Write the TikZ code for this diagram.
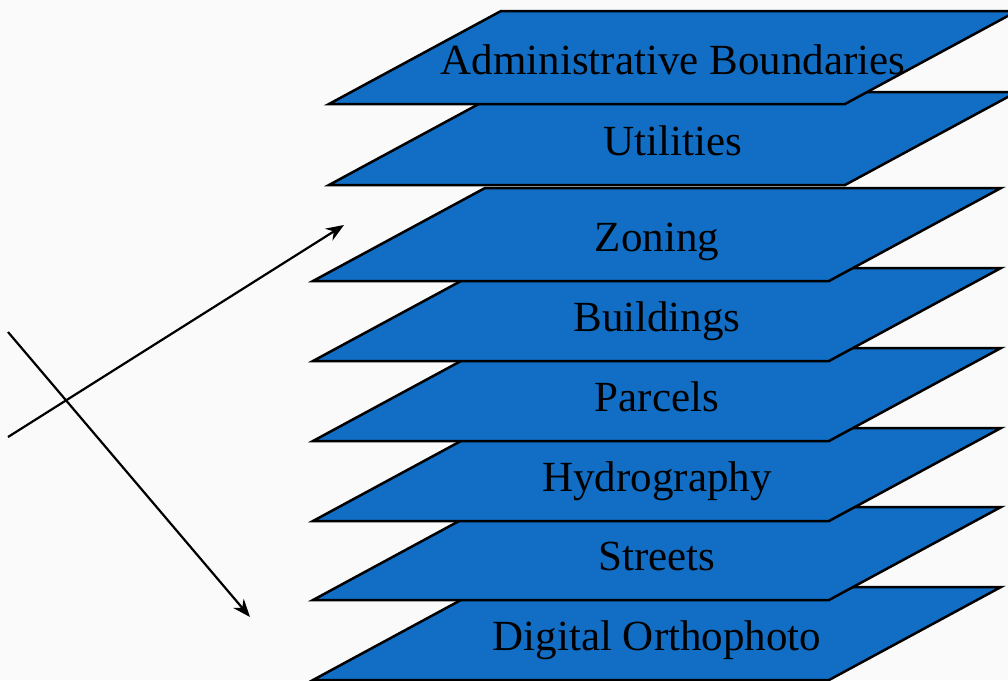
\documentclass[tikz,border=0pt]{standalone}
\usepackage{fontspec}
\setmainfont{Liberation Serif}
\usetikzlibrary{arrows.meta}
\definecolor{layerblue}{RGB}{17,110,196}
\definecolor{bgcol}{RGB}{250,250,250}
\tikzset{
  layerface/.style={fill=layerblue, draw=black, line width=2.5pt, line join=miter},
  layertext/.style={anchor=base, inner sep=0pt, font=\fontsize{43}{50}\selectfont, text=black},
  pointer/.style={draw=black, line width=2.2pt, -{Stealth[length=18pt,width=14pt,inset=6pt]}}
}
\newcommand{\maplayer}[4]{%
  \filldraw[layerface] (#2,#3) -- ++(516,0) -- ++(172,-93) -- ++(-516,0) -- cycle;
  \node[layertext] (#1) at (#2+344,#3-46.5+17) {#4};
}
\begin{document}
\begin{tikzpicture}[x=1pt,y=-1pt]
\useasboundingbox (0,0) rectangle (1008,680);
\fill[bgcol] (0,0) rectangle (1008,680);
\clip (0,0) rectangle (1008,680);
\maplayer{ortho}{313}{680}{Digital Orthophoto}
\maplayer{streets}{313}{600}{Streets}
\maplayer{hydro}{313}{521}{Hydrography}
\maplayer{parcels}{313}{441}{Parcels}
\maplayer{buildings}{313}{361}{Buildings}
\maplayer{zoning}{313}{281}{Zoning}
\maplayer{utilities}{329}{185}{Utilities}
\maplayer{admin}{329}{104}{Administrative Boundaries}
\coordinate (upstart) at (8,437);
\coordinate (upend) at (344,225);
\coordinate (downstart) at (8,332);
\coordinate (downend) at (250,617);
\draw[pointer] (upstart) -- (upend);
\draw[pointer] (downstart) -- (downend);
\end{tikzpicture}
\end{document}
